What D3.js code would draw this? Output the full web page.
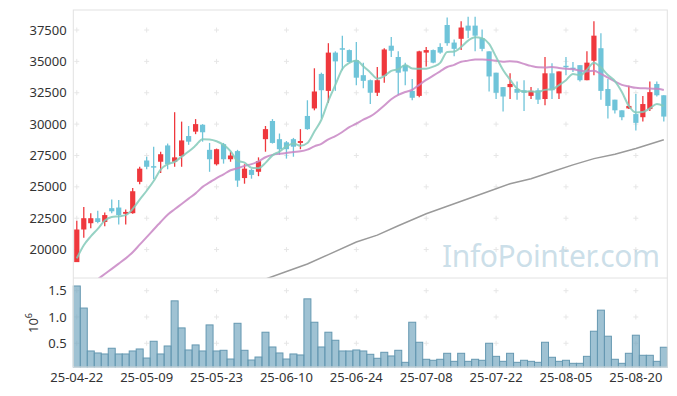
<!DOCTYPE html>
<html lang="ko">
<head>
  <meta charset="UTF-8">
  <title>Daily Candle Chart</title>
  <style>
    body { margin: 0; background: #fff; font-family: "Noto Sans", sans-serif; }
    .tick-label { fill: #333; font-size: 13px; }
  </style>
  <script src="https://d3js.org/d3.v7.min.js"></script>
</head>
<body>
  <svg id="chart" width="677" height="396"></svg>
  <script>
    // trading days (YY-MM-DD)
    const dates = [
      "25-04-22","25-04-23","25-04-24","25-04-25","25-04-28","25-04-29","25-04-30","25-05-02","25-05-07","25-05-08",
      "25-05-09","25-05-12","25-05-13","25-05-14","25-05-15","25-05-16","25-05-19","25-05-20","25-05-21","25-05-22",
      "25-05-23","25-05-26","25-05-27","25-05-28","25-05-29","25-05-30","25-06-02","25-06-04","25-06-05","25-06-09",
      "25-06-10","25-06-11","25-06-12","25-06-13","25-06-16","25-06-17","25-06-18","25-06-19","25-06-20","25-06-23",
      "25-06-24","25-06-25","25-06-26","25-06-27","25-06-30","25-07-01","25-07-02","25-07-03","25-07-04","25-07-07",
      "25-07-08","25-07-09","25-07-10","25-07-11","25-07-14","25-07-15","25-07-16","25-07-17","25-07-18","25-07-21",
      "25-07-22","25-07-23","25-07-24","25-07-25","25-07-28","25-07-29","25-07-30","25-07-31","25-08-01","25-08-04",
      "25-08-05","25-08-06","25-08-07","25-08-08","25-08-11","25-08-12","25-08-13","25-08-14","25-08-18","25-08-19",
      "25-08-20","25-08-21","25-08-22","25-08-25","25-08-26"
    ];

    const open = [
      19000,21600,22100,22500,22200,23300,23350,22850,22900,25400,27100,26650,27000,28300,27000,27450,29050,29400,29950,27950,
      26800,28400,27200,27850,25700,26350,26200,28800,30250,28800,28550,28800,28500,30650,31250,34000,32650,35700,36050,35900,
      35100,33900,33500,32500,33850,36250,35350,34700,32650,32250,35700,35900,36150,37900,36500,36800,37850,37850,36850,35800,
      34100,32950,32950,32800,32700,32250,32700,32000,34050,32450,34650,34500,34700,33500,35050,36050,32800,31950,31100,31250,
      30800,30550,31200,33200,32300
    ];
    const high = [
      22300,23400,22900,23100,22950,24000,23950,23200,24900,26600,27400,28200,27800,28450,30950,30200,29850,30400,30000,28500,
      28050,28500,27800,27950,26800,26450,27350,29850,30400,29250,28650,28900,29600,31900,34450,34100,36450,35800,37050,35950,
      36550,34900,33550,34550,36050,36950,35800,34900,33600,35850,36150,35950,36450,38500,36750,38200,38550,38550,37550,35800,
      34100,32950,34050,33400,33500,32950,32850,35350,34850,34200,35350,34950,34700,35800,38200,37250,33600,31950,31100,33050,
      32400,32250,33400,33400,32300
    ];
    const low = [
      19000,20950,21700,22100,21850,22900,22000,22000,22850,25200,26400,25600,26100,26400,26600,26600,28350,29200,28600,26200,
      26700,26850,27000,25000,25250,25650,25850,27800,28450,27550,27250,27400,28000,29550,31100,30450,31700,32650,34300,34900,
      33100,32850,31600,32250,33300,35350,32300,33100,31900,32150,34600,34850,35600,36250,35400,35900,36850,35800,35800,32600,
      32000,31000,32000,31950,31050,32000,31600,31500,32000,32000,33900,34150,33400,33500,33900,31950,30450,30850,30300,31200,
      29500,30200,31050,32200,30200
    ];
    const close = [
      21600,22500,22500,22200,22750,23050,22750,23000,24650,26450,26600,26600,27600,26800,27350,28700,28600,30000,29350,27200,
      28000,27200,27500,25500,26450,25950,27050,29600,28500,28000,28000,28200,28650,29600,32600,32700,35700,35000,36000,34950,
      33700,33450,32500,33500,35950,35850,34100,34200,32100,35800,35900,34900,35700,36450,36000,37700,37450,37050,36000,33800,
      32500,32200,33200,32500,32500,32650,31950,34050,32700,34200,34600,34450,33500,34900,37050,32650,31450,31100,30550,31450,
      30100,31600,32550,32300,30600
    ];
    const volume = [
      1590000,1170000,353000,315000,296000,405000,296000,296000,353000,391000,219000,538000,296000,448000,1307000,792000,372000,468000,353000,849000,
      353000,366000,200000,880000,366000,181000,238000,710000,429000,315000,200000,296000,277000,1345000,900000,429000,710000,557000,353000,353000,
      372000,353000,290000,214000,328000,258000,366000,137000,900000,519000,195000,176000,195000,309000,156000,309000,156000,195000,176000,500000,
      251000,156000,309000,137000,176000,156000,137000,519000,233000,156000,176000,118000,118000,251000,729000,1130000,634000,195000,118000,309000,
      653000,271000,271000,156000,424000
    ];

    // moving averages
    const ma5 = [
      19300,20350,21050,21650,22310,22600,22650,22750,23240,23980,24690,25460,26380,26810,26990,27410,27810,28290,28800,28770,
      28630,28350,27850,27080,26930,26520,26490,26910,27510,27820,28230,28460,28270,28490,29410,30350,31850,33120,34400,34870,
      35070,34620,34120,33620,33820,34250,34380,34720,34440,34410,34420,34580,34880,35750,35790,36150,36660,36930,36840,36400,
      35360,34310,33540,32840,32580,32610,32560,32730,32770,33110,33500,34000,33890,34330,34900,34510,33910,33430,32560,31440,
      30930,30960,31250,31600,31430
    ];
    const ma20 = [
      null,null,17220,17635,18050,18465,18880,19300,19790,20390,20990,21600,22200,22780,23210,23630,24060,24480,25000,25350,
      25700,26000,26320,26480,26670,26810,27030,27360,27550,27630,27700,27780,27830,27970,28230,28430,28790,29040,29370,29760,
      30040,30360,30610,31010,31480,31980,32330,32560,32740,33130,33520,33860,34210,34550,34720,34970,35060,35160,35160,35110,
      35050,34980,35020,34970,34800,34640,34530,34520,34550,34470,34410,34380,34270,34200,34250,34000,33700,33400,33130,33010,
      32890,32860,32830,32820,32720
    ];
    const ma120Idx = [26, 27, 30, 33, 36, 40, 43, 46, 50, 53, 56, 59, 62, 65, 68, 71, 74, 77, 80, 84];
    const ma120Val = [17450, 17650, 18250, 18850, 19600, 20600, 21150, 21900, 22850, 23450, 24050, 24650, 25250, 25650, 26200, 26750, 27250, 27600, 28050, 28750];

    const priceTicks = [20000, 22500, 25000, 27500, 30000, 32500, 35000, 37500];
    const volTicks = [500000, 1000000, 1500000];
    const volTickLabels = ["0.5", "1.0", "1.5"];
    const dateTickIdx = [0, 10, 20, 30, 40, 50, 60, 70, 80];

    const plotLeft = 73.3, plotRight = 667.3, plotTop = 10, plotMid = 278, plotBottom = 367;
    const upColor = "#ef383d", downColor = "#6fc4d9";

    const svg = d3.select("#chart");

    const x = d3.scaleBand()
      .domain(d3.range(dates.length))
      .range([plotLeft, plotRight])
      .padding(0);
    const cx = i => x(i) + x.bandwidth() / 2;

    const y = d3.scaleLinear().domain([17734, 39096]).range([plotMid, plotTop]);
    const yv = d3.scaleLinear().domain([48000, 1742000]).range([plotBottom, plotMid]);

    svg.append("clipPath").attr("id", "mainClip")
      .append("rect")
      .attr("x", plotLeft).attr("y", plotTop)
      .attr("width", plotRight - plotLeft).attr("height", plotMid - plotTop);

    // grid crosses
    const grid = svg.append("g").attr("stroke", "#e6e6e6").attr("stroke-width", 1);
    const crossRows = priceTicks.map(v => y(v)).concat(volTicks.map(v => yv(v)));
    dateTickIdx.forEach(i => {
      crossRows.forEach(yy => {
        grid.append("line").attr("x1", cx(i) - 2.5).attr("x2", cx(i) + 2.5).attr("y1", yy).attr("y2", yy);
        grid.append("line").attr("x1", cx(i)).attr("x2", cx(i)).attr("y1", yy - 2.5).attr("y2", yy + 2.5);
      });
    });

    // volume bars
    svg.append("g")
      .selectAll("rect")
      .data(volume)
      .join("rect")
      .attr("x", (d, i) => x(i))
      .attr("y", d => yv(d))
      .attr("width", x.bandwidth())
      .attr("height", d => plotBottom - yv(d))
      .attr("fill", "rgba(118,168,192,0.7)")
      .attr("stroke", "#6598b1")
      .attr("stroke-width", 1);

    // candles
    const candles = svg.append("g")
      .selectAll("g")
      .data(dates.map((d, i) => i))
      .join("g");

    candles.append("line")
      .attr("x1", i => cx(i)).attr("x2", i => cx(i))
      .attr("y1", i => y(high[i])).attr("y2", i => y(low[i]))
      .attr("stroke", i => close[i] > open[i] ? upColor : downColor)
      .attr("stroke-width", 1.3);

    candles.append("rect")
      .attr("x", i => cx(i) - 2.6)
      .attr("width", 5.2)
      .attr("y", i => y(Math.max(open[i], close[i])))
      .attr("height", i => Math.max(1.5, Math.abs(y(open[i]) - y(close[i]))))
      .attr("fill", i => close[i] > open[i] ? upColor : downColor);

    // moving average lines
    const lines = svg.append("g").attr("clip-path", "url(#mainClip)").attr("fill", "none");

    lines.append("path")
      .datum(ma120Idx.map((d, k) => [d, ma120Val[k]]))
      .attr("d", d3.line().x(d => cx(d[0])).y(d => y(d[1])))
      .attr("stroke", "#9a9a9a")
      .attr("stroke-width", 1.5);

    lines.append("path")
      .datum(ma20.map((v, i) => [i, v]).filter(d => d[1] !== null))
      .attr("d", d3.line().curve(d3.curveMonotoneX).x(d => cx(d[0])).y(d => y(d[1])))
      .attr("stroke", "rgba(200,134,196,0.85)")
      .attr("stroke-width", 2);

    lines.append("path")
      .datum(ma5.map((v, i) => [i, v]))
      .attr("d", d3.line().curve(d3.curveMonotoneX).x(d => cx(d[0])).y(d => y(d[1])))
      .attr("stroke", "rgba(132,202,186,0.85)")
      .attr("stroke-width", 2);

    // frame
    const frame = svg.append("g").attr("stroke", "#e2e2e2").attr("fill", "none");
    frame.append("rect").attr("x", plotLeft).attr("y", plotTop)
      .attr("width", plotRight - plotLeft).attr("height", plotBottom - plotTop);
    frame.append("line").attr("x1", plotLeft).attr("x2", plotRight).attr("y1", plotMid).attr("y2", plotMid);

    // watermark
    svg.append("text")
      .attr("x", 660).attr("y", 267)
      .attr("text-anchor", "end")
      .attr("textLength", 218)
      .style("font-size", "30px")
      .style("fill", "rgba(160,196,214,0.55)")
      .text("InfoPointer.com");

    // price labels
    svg.append("g")
      .selectAll("text")
      .data(priceTicks)
      .join("text")
      .attr("class", "tick-label")
      .attr("x", 66.7)
      .attr("y", d => y(d))
      .attr("dy", "0.35em")
      .attr("text-anchor", "end")
      .text(d => d);

    // volume labels
    svg.append("g")
      .selectAll("text")
      .data(volTicks)
      .join("text")
      .attr("class", "tick-label")
      .attr("x", 66.7)
      .attr("y", d => yv(d))
      .attr("dy", "0.35em")
      .attr("text-anchor", "end")
      .text((d, k) => volTickLabels[k]);

    const unit = svg.append("text")
      .attr("class", "tick-label")
      .attr("transform", "translate(38,333) rotate(-90)");
    unit.append("tspan").text("10");
    unit.append("tspan").attr("dy", -6).style("font-size", "9px").text("6");

    // date labels
    svg.append("g")
      .selectAll("text")
      .data(dateTickIdx)
      .join("text")
      .attr("class", "tick-label")
      .attr("x", i => cx(i))
      .attr("y", 382)
      .attr("text-anchor", "middle")
      .text(i => dates[i]);
  </script>
</body>
</html>
